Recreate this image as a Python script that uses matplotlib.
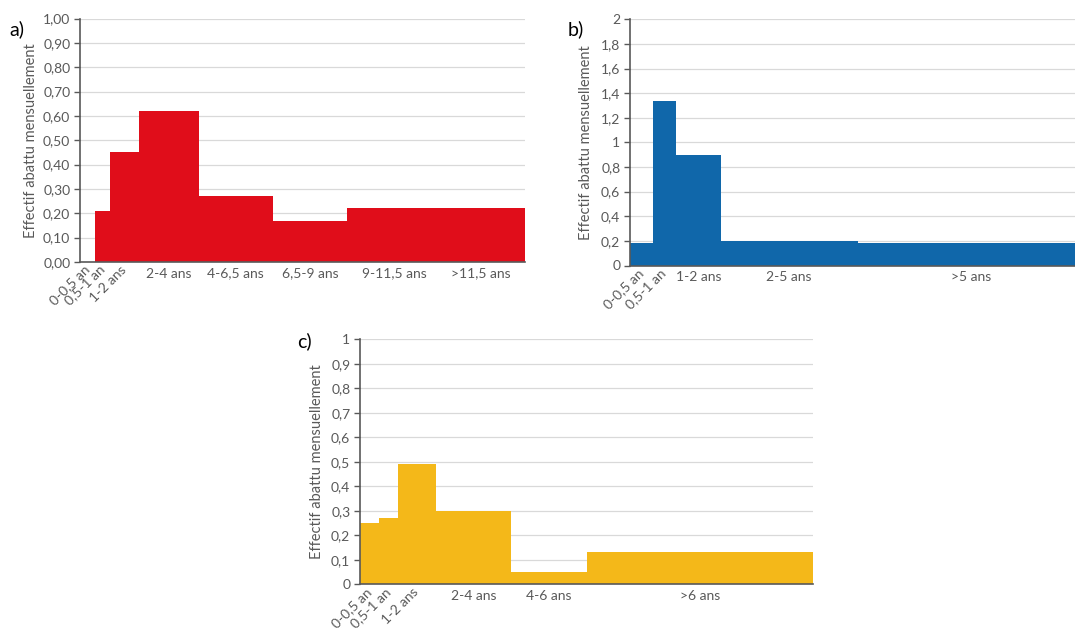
"""Effectif abattu mensuellement par classe d'age (panneaux a, b, c)"""

import numpy as np
import matplotlib.pyplot as plt

plt.rcParams['font.family'] = ['Lato', 'DejaVu Sans']

# a) classes d'age (ans) et effectifs
a_edges = [0, 0.5, 1, 2, 4, 6.5, 9, 11.5, 15]
a_values = [0, 0.21, 0.45, 0.62, 0.27, 0.17, 0.22, 0.22]
a_labels = ["0-0,5 an", "0,5-1 an", "1-2 ans", "2-4 ans", "4-6,5 ans",
            "6,5-9 ans", "9-11,5 ans", ">11,5 ans"]
a_ticks = [0.25, 0.75, 1.5, 3, 5.25, 7.75, 10.6, 13.5]

# b)
b_edges = [0, 0.5, 1, 2, 5, 10]
b_values = [0.18, 1.34, 0.90, 0.20, 0.18]
b_labels = ["0-0,5 an", "0,5-1 an", "1-2 ans", "2-5 ans", ">5 ans"]
b_ticks = [0.25, 0.75, 1.5, 3.5, 7.5]

# c)
c_edges = [0, 0.5, 1, 2, 4, 6, 12]
c_values = [0.25, 0.27, 0.49, 0.30, 0.05, 0.13]
c_labels = ["0-0,5 an", "0,5-1 an", "1-2 ans", "2-4 ans", "4-6 ans", ">6 ans"]
c_ticks = [0.25, 0.75, 1.5, 3, 5, 9]

W, H = 1075, 628
GREY = '#595959'


def px_axes(fig, x0, x1, y_top, y_bot):
    # axes from pixel box (y measured from the top)
    return fig.add_axes([x0 / W, 1 - y_bot / H, (x1 - x0) / W, (y_bot - y_top) / H])


def draw_panel(ax, edges, values, color, labels, ticks, n_rot, ymax, ystep, ndec, ylab_px):
    ax.stairs(values, edges, fill=True, color=color, linewidth=0, zorder=2)
    ax.set_xlim(edges[0], edges[-1])
    ax.set_ylim(0, ymax)

    yt = np.arange(0, ymax + ystep / 2, ystep)
    ax.set_yticks(yt)
    if ndec:
        ax.set_yticklabels([('%.*f' % (ndec, v)).replace('.', ',') for v in yt])
    else:
        ax.set_yticklabels([('%g' % round(v, 3)).replace('.', ',') for v in yt])
    ax.yaxis.grid(True, color='#D9D9D9', linewidth=0.9, zorder=0)
    ax.set_axisbelow(True)

    ax.set_xticks(ticks)
    ax.set_xticklabels(labels)
    for i, t in enumerate(ax.get_xticklabels()):
        if i < n_rot:
            t.set_rotation(45)
            t.set_ha('right')
            t.set_va('center')
            t.set_rotation_mode('anchor')
            t.set_fontsize(9)
    ax.tick_params(axis='x', length=0, pad=4, labelsize=10, labelcolor=GREY)
    ax.tick_params(axis='y', length=4, width=1, color=GREY, labelsize=10,
                   labelcolor=GREY, pad=3)

    for s in ['top', 'right']:
        ax.spines[s].set_visible(False)
    for s in ['left', 'bottom']:
        ax.spines[s].set_color(GREY)
        ax.spines[s].set_linewidth(1.2)
        ax.spines[s].set_zorder(3)

    ax.set_ylabel("Effectif abattu mensuellement", fontsize=10.5, color=GREY)
    x0 = ax.get_position().x0 * W
    ax.yaxis.set_label_coords(-(x0 - ylab_px) / (ax.get_position().width * W), 0.5)


fig = plt.figure(figsize=(W / 100, H / 100), dpi=100)

ax_a = px_axes(fig, 80, 525, 18.5, 262)
draw_panel(ax_a, a_edges, a_values, '#E00D1A', a_labels, a_ticks, 3, 1.0, 0.1, 2, 38)

ax_b = px_axes(fig, 630, 1085, 19.3, 265.5)
draw_panel(ax_b, b_edges, b_values, '#1067AA', b_labels, b_ticks, 2, 2.0, 0.2, 0, 593)

ax_c = px_axes(fig, 360, 813.3, 339.3, 584.3)
draw_panel(ax_c, c_edges, c_values, '#F4B819', c_labels, c_ticks, 3, 1.0, 0.1, 0, 324)

for letter, x, y in [('a)', 9, 29), ('b)', 568, 29), ('c)', 297, 341)]:
    fig.text(x / W, 1 - y / H, letter, fontsize=14, va='center', ha='left', color='black')

fig.savefig('out.png', dpi=100)
